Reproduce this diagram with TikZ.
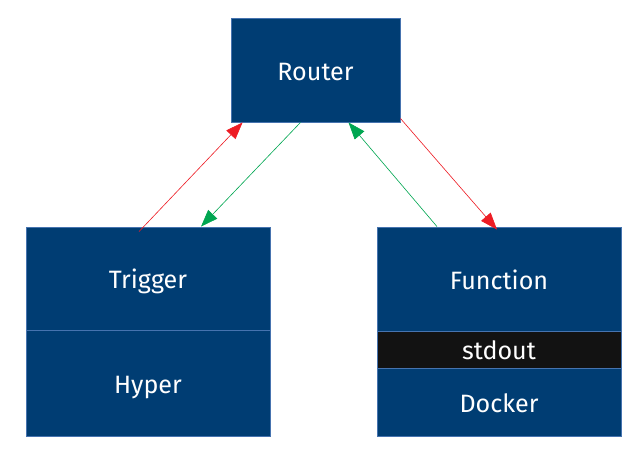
\documentclass[tikz,border=0pt]{standalone}
\usepackage{fontspec}
\setmainfont{Fira Sans}
\usetikzlibrary{arrows.meta,calc}
\definecolor{boxblue}{RGB}{0,61,115}
\definecolor{edgeblue}{RGB}{70,115,175}
\definecolor{outblack}{RGB}{18,18,18}
\definecolor{hotred}{RGB}{237,28,36}
\definecolor{okgreen}{RGB}{0,166,81}
\begin{document}
\begin{tikzpicture}[
    x=0.02cm, y=-0.02cm, semithick,
    box/.style={rectangle, draw=edgeblue, line width=0.5pt, fill=boxblue, text=white,
      inner sep=0pt, text height=0.4cm, text depth=0pt, font=\fontsize{14.3}{17}\selectfont},
    wide/.style={box, minimum width=4.88cm},
    link/.style={line width=0.35pt, -{Triangle[length=0.34cm, width=0.25cm]}}
  ]
  \useasboundingbox (0,0) rectangle (643,454);
  \node[box, minimum width=3.38cm, minimum height=2.08cm] (router) at (315.5,70) {Router};
  \node[wide, minimum height=2.06cm] (trigger) at (148,278.5) {Trigger};
  \node[wide, minimum height=2.12cm] (hyper) at (148,383) {Hyper};
  \node[wide, minimum height=2.08cm] (function) at (499,279) {Function};
  \node[wide, minimum height=0.74cm, fill=outblack] (stdout) at (499,349.5) {stdout};
  \node[wide, minimum height=1.36cm] (docker) at (499,402) {Docker};

  \draw[link, hotred] ($(trigger.north)+(-9,5)$) -- ($(router.south west)+(12,0)$);
  \draw[link, okgreen] ($(router.south)+(-15,0)$) -- ($(trigger.north)+(53,0)$);
  \draw[link, okgreen] ($(function.north)+(-62,0)$) -- ($(router.south)+(33,0)$);
  \draw[link, hotred] ($(router.south east)+(0,-4)$) -- ($(function.north)+(-2,3)$);
\end{tikzpicture}
\end{document}
